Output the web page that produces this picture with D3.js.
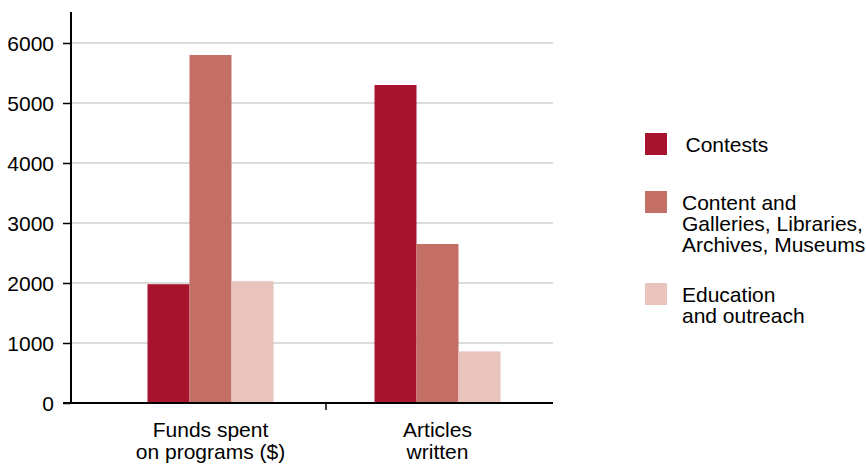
<!DOCTYPE html>
<html><head><meta charset="utf-8">
<script src="https://cdn.jsdelivr.net/npm/d3@7/dist/d3.min.js"></script>
<style>body{margin:0;background:#fff}text{font-family:"Liberation Sans",Arial,sans-serif;fill:#000}</style>
</head><body><svg id="c" width="866" height="464"></svg>
<script>
const categories = [["Funds spent","on programs ($)"],["Articles","written"]];
const categoryKeys = ["funds","articles"];
const seriesNames = [["Contests"],["Content and","Galleries, Libraries,","Archives, Museums"],["Education","and outreach"]];
const contests = [1980, 5300];
const content = [5800, 2650];
const education = [2030, 860];
const yTicks = [0,1000,2000,3000,4000,5000,6000];
const colors = ["#a8132d","#c46f66","#e8c4bc"];

const series = [contests, content, education];
const svg = d3.select("#c");
const FS = "21px";
const y = d3.scaleLinear().domain([0,6500]).range([403,13]);
const x = d3.scaleBand().domain(categoryKeys).range([97,551]).paddingInner(0).paddingOuter(0);
const groupW = 126;
const xs = d3.scaleBand().domain(d3.range(series.length)).range([0,groupW]);

// gridlines
svg.append("g").selectAll("line").data(yTicks.filter(d=>d>0)).join("line")
  .attr("x1",71).attr("x2",553).attr("y1",d=>y(d)).attr("y2",d=>y(d))
  .attr("stroke","#d0d0d0").attr("stroke-width",1.5);

// bars
categoryKeys.forEach((k,i)=>{
  const cx = x(k)+x.bandwidth()/2;
  series.forEach((s,j)=>{
    svg.append("rect").attr("x",cx-groupW/2+xs(j)).attr("width",xs.bandwidth())
      .attr("y",y(s[i])).attr("height",y(0)-y(s[i])).attr("fill",colors[j]);
  });
});

// y axis
const ya = svg.append("g").attr("transform","translate(71,0)")
  .call(d3.axisLeft(y).tickValues(yTicks).tickFormat(d3.format("d")).tickSize(8).tickPadding(9));
ya.attr("font-size",null).attr("font-family",null);
ya.select(".domain").remove();
ya.selectAll("line").attr("stroke","#000").attr("stroke-width",1.5);
ya.selectAll("text").style("font-size",FS).attr("dy","0.35em");
svg.append("line").attr("x1",71).attr("x2",71).attr("y1",12).attr("y2",404).attr("stroke","#000").attr("stroke-width",2);
// x axis
svg.append("line").attr("x1",63).attr("x2",553).attr("y1",403).attr("y2",403).attr("stroke","#000").attr("stroke-width",2);
svg.append("line").attr("x1",x(categoryKeys[1])+2).attr("x2",x(categoryKeys[1])+2).attr("y1",403).attr("y2",410).attr("stroke","#000").attr("stroke-width",1.5);
categoryKeys.forEach((k,i)=>{
  const cx = x(k)+x.bandwidth()/2;
  const t = svg.append("text").attr("text-anchor","middle").attr("x",cx).attr("y",437).style("font-size",FS);
  categories[i].forEach((l,li)=>t.append("tspan").attr("x",cx).attr("dy",li?22:0).text(l));
});

// legend
const legY = [133,191,283];
const legTextX = [685.5,682,682];
seriesNames.forEach((names,j)=>{
  svg.append("rect").attr("x",645).attr("y",legY[j]).attr("width",22).attr("height",22).attr("fill",colors[j]);
  const t = svg.append("text").attr("x",legTextX[j]).attr("y",legY[j]+19).style("font-size",FS);
  names.forEach((l,li)=>t.append("tspan").attr("x",legTextX[j]).attr("dy",li?21:0).text(l));
});
</script></body></html>
